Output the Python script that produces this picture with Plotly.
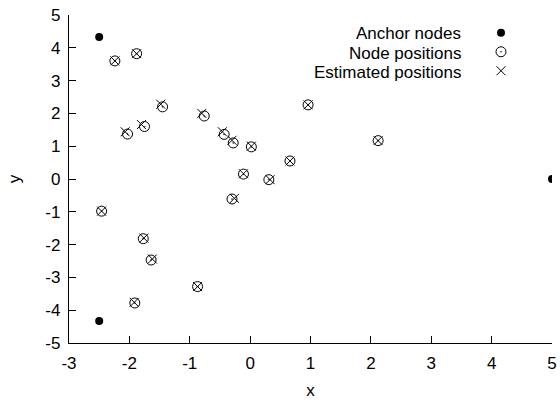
import plotly.graph_objects as go

anchor_x = [-2.5, -2.5, 5.0]
anchor_y = [4.33, -4.33, 0.0]

node_x = [-2.24, -1.88, -2.03, -1.75, -1.45, -0.76, -0.43, -0.28, 0.02, -0.11,
          0.31, -0.30, 0.96, 2.12, 0.66, -2.46, -1.77, -1.64, -0.87, -1.91]
node_y = [3.60, 3.82, 1.37, 1.60, 2.20, 1.92, 1.36, 1.10, 0.98, 0.15,
          -0.02, -0.61, 2.26, 1.17, 0.55, -0.98, -1.82, -2.47, -3.28, -3.78]

est_x = [-2.24, -1.88, -2.07, -1.80, -1.48, -0.80, -0.46, -0.30, 0.02, -0.11,
         0.33, -0.26, 0.96, 2.12, 0.66, -2.46, -1.76, -1.62, -0.87, -1.92]
est_y = [3.60, 3.82, 1.44, 1.66, 2.28, 2.00, 1.44, 1.18, 1.00, 0.16,
         -0.02, -0.59, 2.26, 1.17, 0.55, -0.98, -1.80, -2.44, -3.28, -3.76]

x_ticks = [-3, -2, -1, 0, 1, 2, 3, 4, 5]
x_ticklabels = ["-3", "-2", "-1", "0", "1", "2", "3", "4", "5"]
y_ticks = [-5, -4, -3, -2, -1, 0, 1, 2, 3, 4, 5]
y_ticklabels = ["-5", "-4", "-3", "-2", "-1", "0", "1", "2", "3", "4", "5"]

legend_labels = ["Anchor nodes", "Node positions", "Estimated positions"]

FONT = "Liberation Sans, Arial, Helvetica, sans-serif"

fig = go.Figure()
fig.add_trace(go.Scatter(x=anchor_x, y=anchor_y, mode="markers", name="",
                         marker=dict(symbol="circle", size=8, color="black")))
fig.add_trace(go.Scatter(x=node_x, y=node_y, mode="markers", name="",
                         marker=dict(symbol="circle-open-dot", size=10, color="black",
                                     line=dict(width=1, color="black"))))
fig.add_trace(go.Scatter(x=est_x, y=est_y, mode="markers", name="",
                         marker=dict(symbol="x-thin-open", size=9, color="black",
                                     line=dict(width=1, color="black"))))

axis_common = dict(showline=True, linecolor="black", linewidth=1.3, mirror=False,
                   ticks="inside", ticklen=7, tickwidth=1.3, tickcolor="black",
                   showgrid=False, zeroline=False, ticklabelstandoff=4,
                   tickfont=dict(family=FONT, size=17, color="black"))

fig.update_xaxes(range=[-3, 5], tickmode="array", tickvals=x_ticks, ticktext=x_ticklabels,
                 title=dict(text="x", font=dict(family=FONT, size=17, color="black"), standoff=17),
                 **axis_common)
fig.update_yaxes(range=[-5, 5], tickmode="array", tickvals=y_ticks, ticktext=y_ticklabels,
                 title=dict(text="y", font=dict(family=FONT, size=17, color="black"), standoff=20),
                 **axis_common)

leg_y = [0.943, 0.884, 0.825]
for lab, yy in zip(legend_labels, leg_y):
    fig.add_annotation(text=lab, xref="paper", yref="paper", x=0.8156, y=yy,
                       xanchor="right", yanchor="middle", showarrow=False,
                       height=19, valign="middle",
                       font=dict(family=FONT, size=17, color="black"))

fig.update_layout(
    width=560, height=400,
    margin=dict(l=69, r=8, t=15, b=57, autoexpand=False),
    paper_bgcolor="white", plot_bgcolor="white",
    showlegend=True,
    legend=dict(x=0.853, y=0.990, xanchor="left", yanchor="top",
                bgcolor="rgba(0,0,0,0)", font=dict(size=12, family=FONT),
                itemwidth=30, itemsizing="trace"),
    font=dict(family=FONT, color="black"),
)

fig.write_html("out.html")
